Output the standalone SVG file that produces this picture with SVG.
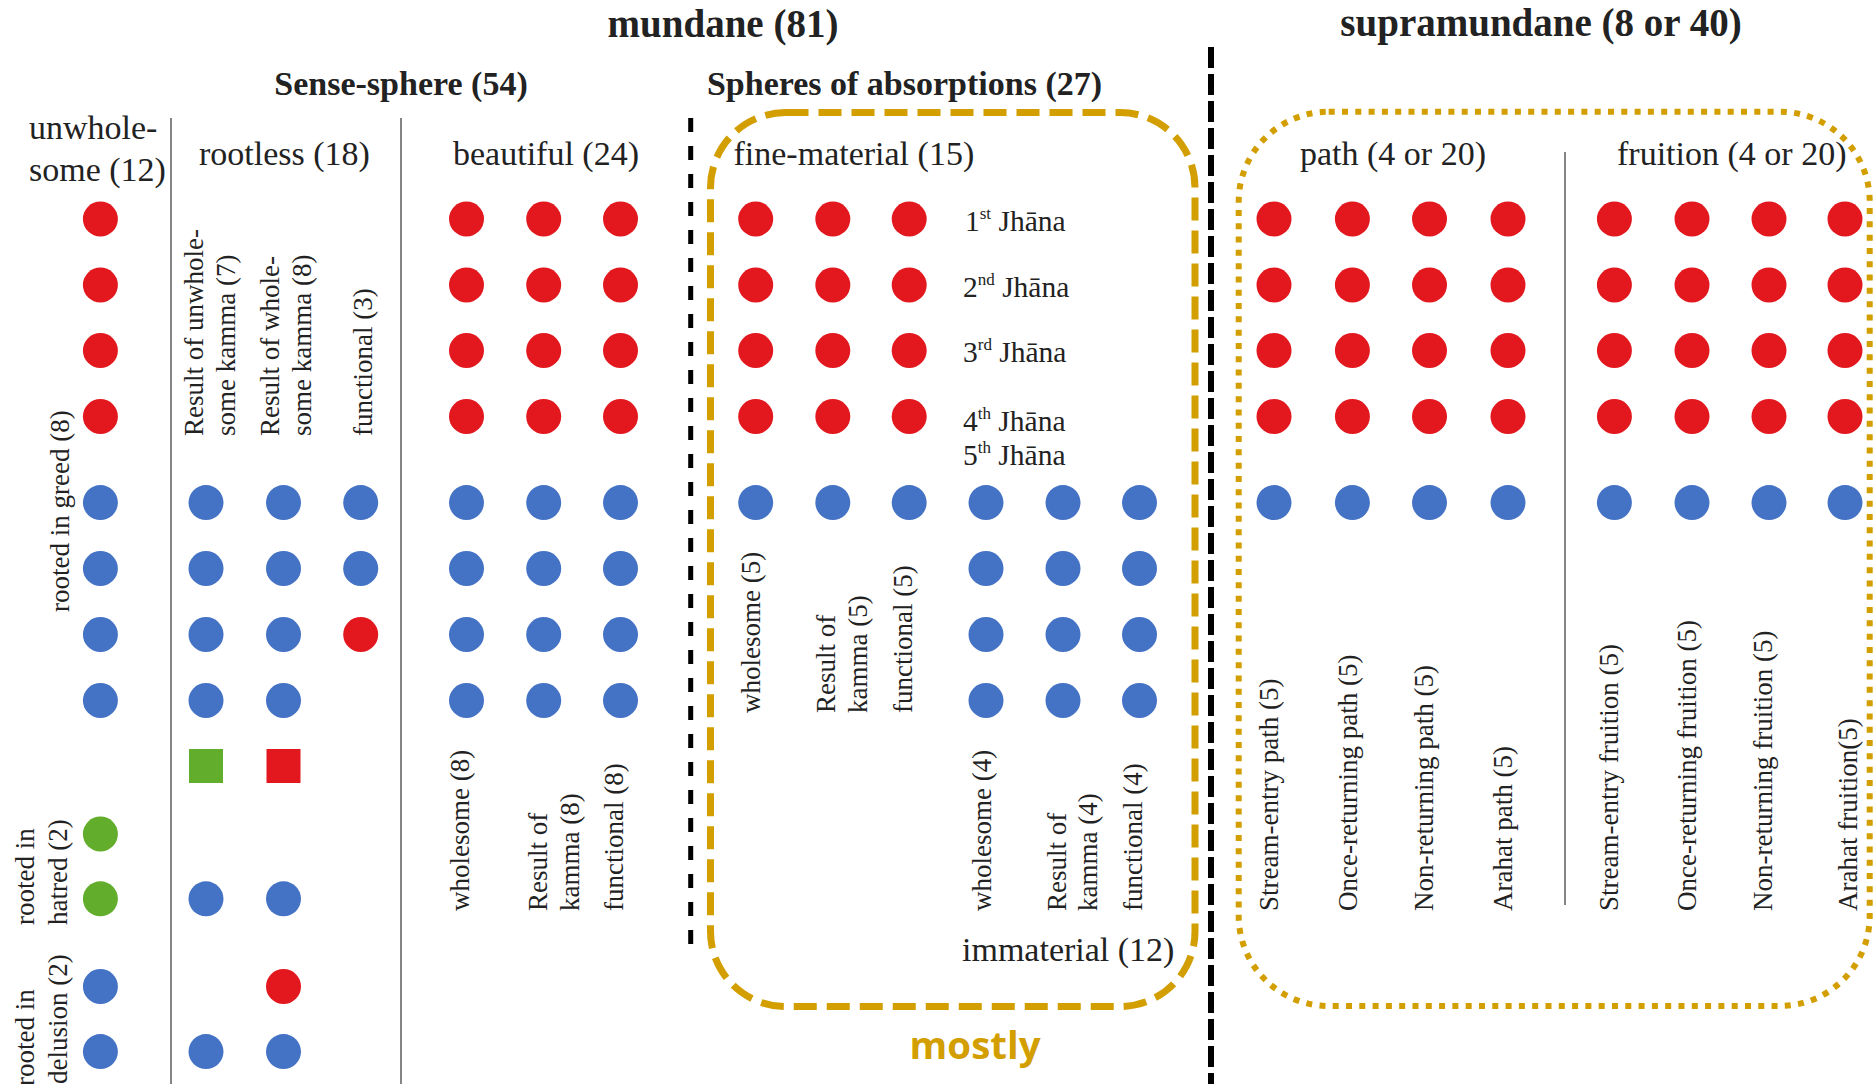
<svg xmlns="http://www.w3.org/2000/svg" width="1873" height="1084" viewBox="0 0 1873 1084">
<style>
.r{fill:#E3181F}
.b{fill:#4472C4}
.g{fill:#62AD2B}
.t{font-family:"Liberation Serif","Times New Roman",serif;fill:#222}
.h1{font-size:39px;font-weight:bold}
.h2{font-size:34px;font-weight:bold}
.h3{font-size:34px}
.v{font-size:27px}
.j{font-size:29.5px}
.sup{font-size:17px}
.thin{stroke:#666;stroke-width:1.6;fill:none}
</style>
<rect width="1873" height="1084" fill="#fff"/>
<defs>
<circle id="d" r="17.5"/>
</defs>

<g id="lines">
<line class="thin" x1="171" y1="118" x2="171" y2="1084"/>
<line class="thin" x1="401" y1="118" x2="401" y2="1084"/>
<line class="thin" x1="1565" y1="152" x2="1565" y2="905"/>
<line x1="690.7" y1="118" x2="690.7" y2="952" stroke="#000" stroke-width="5" stroke-dasharray="14 14"/>
<line x1="1211" y1="47" x2="1211" y2="1084" stroke="#000" stroke-width="6" stroke-dasharray="21 6"/>
<rect x="710.5" y="112.5" width="484.5" height="894" rx="75" ry="75" fill="none" stroke="#D29E00" stroke-width="7" stroke-dasharray="23 10"/>
<rect x="1238.7" y="111.7" width="631" height="894.3" rx="90" ry="90" fill="none" stroke="#D29E00" stroke-width="6" stroke-dasharray="6 7.3"/>
</g>

<g id="titles" class="t">
<text class="h1" x="723" y="37" text-anchor="middle">mundane (81)</text>
<text class="h1" x="1541" y="36" text-anchor="middle">supramundane (8 or 40)</text>
<text class="h2" x="401" y="95" text-anchor="middle">Sense-sphere (54)</text>
<text class="h2" x="904.5" y="95" text-anchor="middle">Spheres of absorptions (27)</text>
<text class="h3" x="29" y="139">unwhole-</text>
<text class="h3" x="29" y="181">some (12)</text>
<text class="h3" x="199" y="165">rootless (18)</text>
<text class="h3" x="453" y="165">beautiful (24)</text>
<text class="h3" x="733.5" y="165">fine-material (15)</text>
<text class="h3" x="1300" y="165">path (4 or 20)</text>
<text class="h3" x="1617" y="165">fruition (4 or 20)</text>
<text class="h3" x="962" y="961">immaterial (12)</text>
</g>

<g id="jhana" class="t j">
<text x="965" y="231">1<tspan class="sup" dy="-12">st</tspan><tspan dy="12"> Jhāna</tspan></text>
<text x="963" y="296.5">2<tspan class="sup" dy="-12">nd</tspan><tspan dy="12"> Jhāna</tspan></text>
<text x="963" y="362">3<tspan class="sup" dy="-12">rd</tspan><tspan dy="12"> Jhāna</tspan></text>
<text x="963" y="430.5">4<tspan class="sup" dy="-12">th</tspan><tspan dy="12"> Jhāna</tspan></text>
<text x="963" y="465">5<tspan class="sup" dy="-12">th</tspan><tspan dy="12"> Jhāna</tspan></text>
</g>

<g id="unwholesome">
<use href="#d" class="r" x="100.4" y="219"/>
<use href="#d" class="r" x="100.4" y="285"/>
<use href="#d" class="r" x="100.4" y="350.5"/>
<use href="#d" class="r" x="100.4" y="416.5"/>
<use href="#d" class="b" x="100.4" y="502.6"/>
<use href="#d" class="b" x="100.4" y="568.5"/>
<use href="#d" class="b" x="100.4" y="634.5"/>
<use href="#d" class="b" x="100.4" y="700.5"/>
<use href="#d" class="g" x="100.4" y="834"/>
<use href="#d" class="g" x="100.4" y="898.8"/>
<use href="#d" class="b" x="100.4" y="986.5"/>
<use href="#d" class="b" x="100.4" y="1051.6"/>
<g class="t v">
<text transform="translate(69,612) rotate(-90)">rooted in greed (8)</text>
<text transform="translate(33.5,925) rotate(-90)">rooted in</text>
<text transform="translate(67,925) rotate(-90)">hatred (2)</text>
<text transform="translate(33.5,1086) rotate(-90)">rooted in</text>
<text transform="translate(67,1084) rotate(-90)">delusion (2)</text>
</g>
</g>

<g id="rootless">
<use href="#d" class="b" x="206" y="502.6"/>
<use href="#d" class="b" x="206" y="568.5"/>
<use href="#d" class="b" x="206" y="634.5"/>
<use href="#d" class="b" x="206" y="700.5"/>
<rect class="g" x="189" y="749" width="34" height="34"/>
<use href="#d" class="b" x="206" y="898.8"/>
<use href="#d" class="b" x="206" y="1051.6"/>
<use href="#d" class="b" x="283.5" y="502.6"/>
<use href="#d" class="b" x="283.5" y="568.5"/>
<use href="#d" class="b" x="283.5" y="634.5"/>
<use href="#d" class="b" x="283.5" y="700.5"/>
<rect class="r" x="266.5" y="749" width="34" height="34"/>
<use href="#d" class="b" x="283.5" y="898.8"/>
<use href="#d" class="r" x="283.5" y="986.5"/>
<use href="#d" class="b" x="283.5" y="1051.6"/>
<use href="#d" class="b" x="360.7" y="502.6"/>
<use href="#d" class="b" x="360.7" y="568.5"/>
<use href="#d" class="r" x="360.7" y="634.5"/>
<g class="t v">
<text transform="translate(203,436) rotate(-90)">Result of unwhole-</text>
<text transform="translate(235,436) rotate(-90)">some kamma (7)</text>
<text transform="translate(279,436) rotate(-90)">Result of whole-</text>
<text transform="translate(311,436) rotate(-90)">some kamma (8)</text>
<text transform="translate(372,436) rotate(-90)">functional (3)</text>
</g>
</g>

<g id="beautiful">
<use href="#d" class="r" x="466.5" y="219"/><use href="#d" class="r" x="543.7" y="219"/><use href="#d" class="r" x="620.5" y="219"/>
<use href="#d" class="r" x="466.5" y="285"/><use href="#d" class="r" x="543.7" y="285"/><use href="#d" class="r" x="620.5" y="285"/>
<use href="#d" class="r" x="466.5" y="350.5"/><use href="#d" class="r" x="543.7" y="350.5"/><use href="#d" class="r" x="620.5" y="350.5"/>
<use href="#d" class="r" x="466.5" y="416.5"/><use href="#d" class="r" x="543.7" y="416.5"/><use href="#d" class="r" x="620.5" y="416.5"/>
<use href="#d" class="b" x="466.5" y="502.6"/><use href="#d" class="b" x="543.7" y="502.6"/><use href="#d" class="b" x="620.5" y="502.6"/>
<use href="#d" class="b" x="466.5" y="568.5"/><use href="#d" class="b" x="543.7" y="568.5"/><use href="#d" class="b" x="620.5" y="568.5"/>
<use href="#d" class="b" x="466.5" y="634.5"/><use href="#d" class="b" x="543.7" y="634.5"/><use href="#d" class="b" x="620.5" y="634.5"/>
<use href="#d" class="b" x="466.5" y="700.5"/><use href="#d" class="b" x="543.7" y="700.5"/><use href="#d" class="b" x="620.5" y="700.5"/>
<g class="t v">
<text transform="translate(469,911) rotate(-90)">wholesome (8)</text>
<text transform="translate(547,911) rotate(-90)">Result of</text>
<text transform="translate(579,911) rotate(-90)">kamma (8)</text>
<text transform="translate(623,911) rotate(-90)">functional (8)</text>
</g>
</g>

<g id="fine-material">
<use href="#d" class="r" x="755.7" y="219"/><use href="#d" class="r" x="832.8" y="219"/><use href="#d" class="r" x="909.2" y="219"/>
<use href="#d" class="r" x="755.7" y="285"/><use href="#d" class="r" x="832.8" y="285"/><use href="#d" class="r" x="909.2" y="285"/>
<use href="#d" class="r" x="755.7" y="350.5"/><use href="#d" class="r" x="832.8" y="350.5"/><use href="#d" class="r" x="909.2" y="350.5"/>
<use href="#d" class="r" x="755.7" y="416.5"/><use href="#d" class="r" x="832.8" y="416.5"/><use href="#d" class="r" x="909.2" y="416.5"/>
<use href="#d" class="b" x="755.7" y="502.6"/><use href="#d" class="b" x="832.8" y="502.6"/><use href="#d" class="b" x="909.2" y="502.6"/>
<g class="t v">
<text transform="translate(760,713) rotate(-90)">wholesome (5)</text>
<text transform="translate(835,713) rotate(-90)">Result of</text>
<text transform="translate(867,713) rotate(-90)">kamma (5)</text>
<text transform="translate(912,713) rotate(-90)">functional (5)</text>
</g>
</g>

<g id="immaterial">
<use href="#d" class="b" x="986" y="502.6"/><use href="#d" class="b" x="1063" y="502.6"/><use href="#d" class="b" x="1139.5" y="502.6"/>
<use href="#d" class="b" x="986" y="568.5"/><use href="#d" class="b" x="1063" y="568.5"/><use href="#d" class="b" x="1139.5" y="568.5"/>
<use href="#d" class="b" x="986" y="634.5"/><use href="#d" class="b" x="1063" y="634.5"/><use href="#d" class="b" x="1139.5" y="634.5"/>
<use href="#d" class="b" x="986" y="700.5"/><use href="#d" class="b" x="1063" y="700.5"/><use href="#d" class="b" x="1139.5" y="700.5"/>
<g class="t v">
<text transform="translate(991,911) rotate(-90)">wholesome (4)</text>
<text transform="translate(1066,911) rotate(-90)">Result of</text>
<text transform="translate(1097,911) rotate(-90)">kamma (4)</text>
<text transform="translate(1142,911) rotate(-90)">functional (4)</text>
</g>
</g>

<g id="path">
<use href="#d" class="r" x="1274" y="219"/><use href="#d" class="r" x="1352.4" y="219"/><use href="#d" class="r" x="1429.5" y="219"/><use href="#d" class="r" x="1508" y="219"/>
<use href="#d" class="r" x="1274" y="285"/><use href="#d" class="r" x="1352.4" y="285"/><use href="#d" class="r" x="1429.5" y="285"/><use href="#d" class="r" x="1508" y="285"/>
<use href="#d" class="r" x="1274" y="350.5"/><use href="#d" class="r" x="1352.4" y="350.5"/><use href="#d" class="r" x="1429.5" y="350.5"/><use href="#d" class="r" x="1508" y="350.5"/>
<use href="#d" class="r" x="1274" y="416.5"/><use href="#d" class="r" x="1352.4" y="416.5"/><use href="#d" class="r" x="1429.5" y="416.5"/><use href="#d" class="r" x="1508" y="416.5"/>
<use href="#d" class="b" x="1274" y="502.6"/><use href="#d" class="b" x="1352.4" y="502.6"/><use href="#d" class="b" x="1429.5" y="502.6"/><use href="#d" class="b" x="1508" y="502.6"/>
<g class="t v">
<text transform="translate(1278,911) rotate(-90)">Stream-entry path (5)</text>
<text transform="translate(1356.5,911) rotate(-90)">Once-returning path (5)</text>
<text transform="translate(1433,911) rotate(-90)">Non-returning path (5)</text>
<text transform="translate(1511.5,911) rotate(-90)">Arahat path (5)</text>
</g>
</g>

<g id="fruition">
<use href="#d" class="r" x="1614.4" y="219"/><use href="#d" class="r" x="1692" y="219"/><use href="#d" class="r" x="1769" y="219"/><use href="#d" class="r" x="1845" y="219"/>
<use href="#d" class="r" x="1614.4" y="285"/><use href="#d" class="r" x="1692" y="285"/><use href="#d" class="r" x="1769" y="285"/><use href="#d" class="r" x="1845" y="285"/>
<use href="#d" class="r" x="1614.4" y="350.5"/><use href="#d" class="r" x="1692" y="350.5"/><use href="#d" class="r" x="1769" y="350.5"/><use href="#d" class="r" x="1845" y="350.5"/>
<use href="#d" class="r" x="1614.4" y="416.5"/><use href="#d" class="r" x="1692" y="416.5"/><use href="#d" class="r" x="1769" y="416.5"/><use href="#d" class="r" x="1845" y="416.5"/>
<use href="#d" class="b" x="1614.4" y="502.6"/><use href="#d" class="b" x="1692" y="502.6"/><use href="#d" class="b" x="1769" y="502.6"/><use href="#d" class="b" x="1845" y="502.6"/>
<g class="t v">
<text transform="translate(1618,911) rotate(-90)">Stream-entry fruition (5)</text>
<text transform="translate(1696,911) rotate(-90)">Once-returning fruition (5)</text>
<text transform="translate(1772,911) rotate(-90)">Non-returning fruition (5)</text>
<text transform="translate(1857,911) rotate(-90)">Arahat fruition(5)</text>
</g>
</g>

<text id="mostly" x="909.6" y="1059" textLength="131" lengthAdjust="spacingAndGlyphs" style="font-family:'Open Sans','Liberation Sans',sans-serif;font-weight:bold;font-size:38px;fill:#D29E00">mostly</text>
</svg>
